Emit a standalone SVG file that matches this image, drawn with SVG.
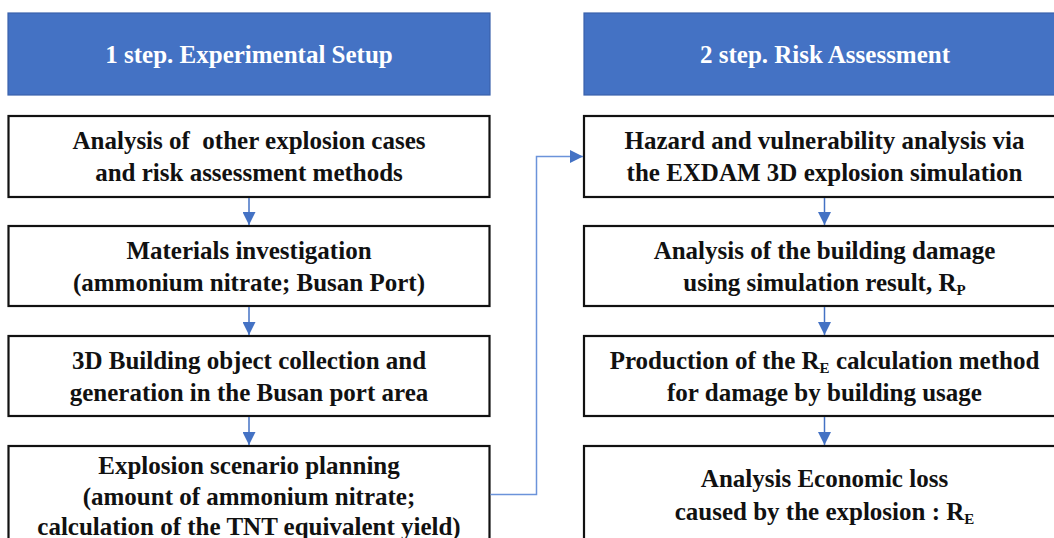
<svg xmlns="http://www.w3.org/2000/svg" width="1054" height="538" viewBox="0 0 1054 538">
<defs>
<style>
.hdr{fill:#4472C4;stroke:#3A62AC;stroke-width:1.2}
.hdrt{font-family:"Liberation Serif","Times New Roman",serif;font-weight:bold;font-size:25px;fill:#ffffff;text-anchor:middle}
.box{fill:#ffffff;stroke:#111111;stroke-width:2.2}
.t{font-family:"Liberation Serif","Times New Roman",serif;font-weight:bold;font-size:25px;fill:#111111;text-anchor:middle;white-space:pre}
.sub{font-size:15px}
.arr{fill:none;stroke:#4472C4;stroke-width:1.5}
.conn{fill:none;stroke:#6B93DA;stroke-width:1.5}
</style>
<marker id="ah" viewBox="0 0 13 13" refX="13" refY="6.5" markerWidth="13" markerHeight="13" markerUnits="userSpaceOnUse" orient="auto">
<path d="M0,0 L13,6.5 L0,13 z" fill="#4472C4"/>
</marker>
</defs>
<rect width="1054" height="538" fill="#ffffff"/>

<g id="header1">
<rect class="hdr" x="8" y="13" width="482" height="82"/>
<text class="hdrt" x="249" y="63">1 step. Experimental Setup</text>
</g>
<g id="header2">
<rect class="hdr" x="584" y="13" width="482" height="82"/>
<text class="hdrt" x="825" y="63">2 step. Risk Assessment</text>
</g>

<g id="L1">
<rect class="box" x="8.5" y="116" width="481" height="81"/>
<text class="t" x="249" y="149" xml:space="preserve">Analysis of  other explosion cases</text>
<text class="t" x="249" y="181">and risk assessment methods</text>
</g>
<g id="L2">
<rect class="box" x="8.5" y="226" width="481" height="80"/>
<text class="t" x="249" y="259">Materials investigation</text>
<text class="t" x="249" y="291">(ammonium nitrate; Busan Port)</text>
</g>
<g id="L3">
<rect class="box" x="8.5" y="336" width="481" height="80"/>
<text class="t" x="249" y="369">3D Building object collection and</text>
<text class="t" x="249" y="401">generation in the Busan port area</text>
</g>
<g id="L4">
<rect class="box" x="8.5" y="446" width="481" height="120"/>
<text class="t" x="249" y="474">Explosion scenario planning</text>
<text class="t" x="249" y="505">(amount of ammonium nitrate;</text>
<text class="t" x="249" y="535">calculation of the TNT equivalent yield)</text>
</g>

<g id="R1">
<rect class="box" x="584" y="116" width="481" height="81"/>
<text class="t" x="824.5" y="149">Hazard and vulnerability analysis via</text>
<text class="t" x="824.5" y="181">the EXDAM 3D explosion simulation</text>
</g>
<g id="R2">
<rect class="box" x="584" y="226" width="481" height="80"/>
<text class="t" x="824.5" y="259">Analysis of the building damage</text>
<text class="t" x="824.5" y="291">using simulation result, R<tspan class="sub" dy="4">P</tspan></text>
</g>
<g id="R3">
<rect class="box" x="584" y="336" width="481" height="80"/>
<text class="t" x="824.5" y="369">Production of the R<tspan class="sub" dy="4">E</tspan><tspan dy="-4"> calculation method</tspan></text>
<text class="t" x="824.5" y="401">for damage by building usage</text>
</g>
<g id="R4">
<rect class="box" x="584" y="446" width="481" height="120"/>
<text class="t" x="824.5" y="487">Analysis Economic loss</text>
<text class="t" x="824.5" y="520">caused by the explosion : R<tspan class="sub" dy="4">E</tspan></text>
</g>

<g id="connectors">
<line class="arr" x1="249" y1="198" x2="249" y2="225" marker-end="url(#ah)"/>
<line class="arr" x1="249" y1="307" x2="249" y2="335" marker-end="url(#ah)"/>
<line class="arr" x1="249" y1="417" x2="249" y2="445" marker-end="url(#ah)"/>
<line class="arr" x1="824.5" y1="198" x2="824.5" y2="225" marker-end="url(#ah)"/>
<line class="arr" x1="824.5" y1="307" x2="824.5" y2="335" marker-end="url(#ah)"/>
<line class="arr" x1="824.5" y1="417" x2="824.5" y2="445" marker-end="url(#ah)"/>
<path class="conn" d="M490.5,494.5 H536.5 V156.5 H583" marker-end="url(#ah)"/>
</g>
</svg>
